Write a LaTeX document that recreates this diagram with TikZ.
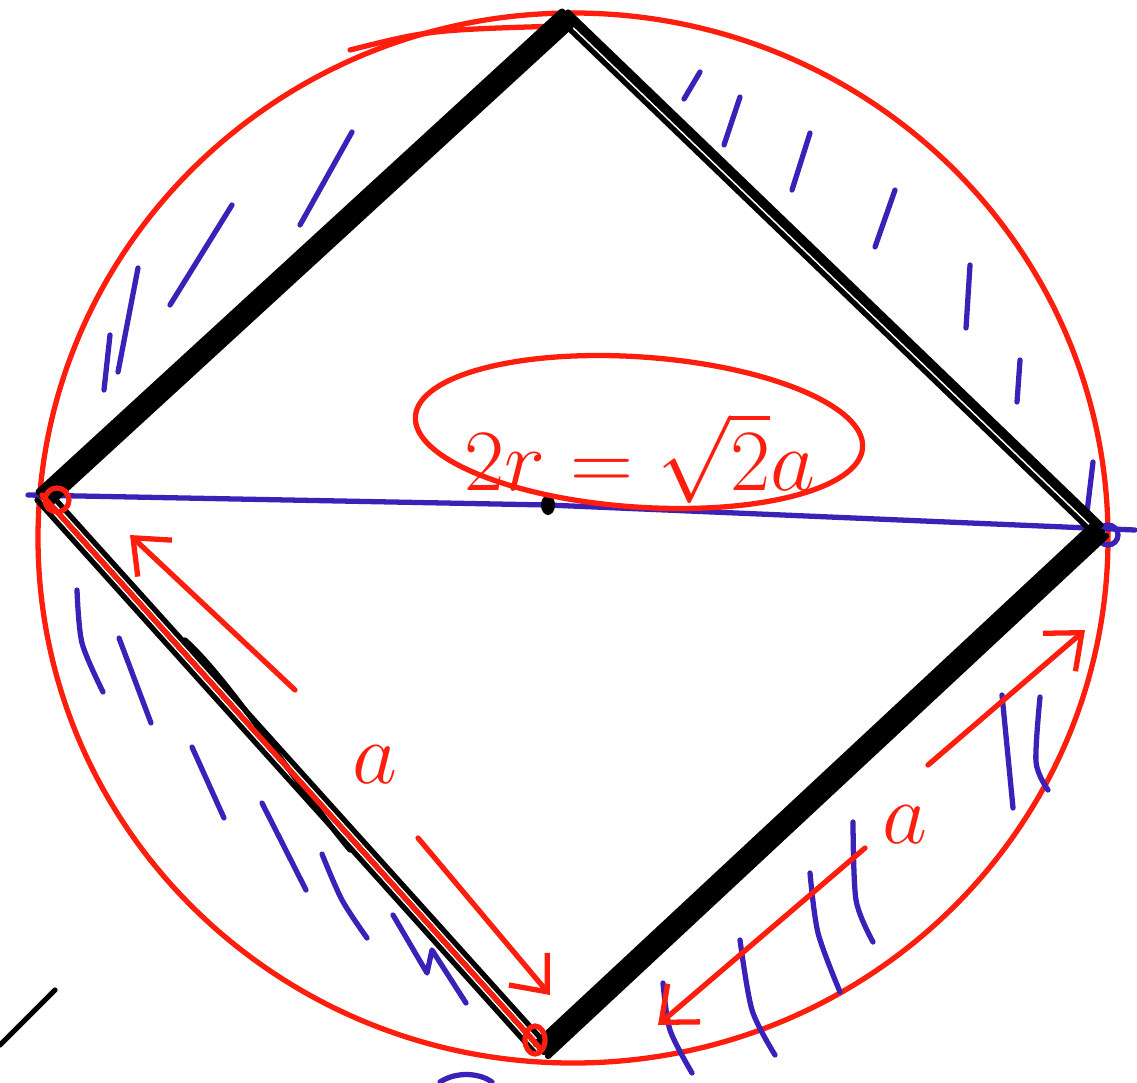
\documentclass[tikz,border=0pt]{standalone}
\usepackage{tikz}
\usetikzlibrary{arrows.meta,shapes.geometric,calc}
\definecolor{inkred}{HTML}{FF1E0E}
\definecolor{inkblue}{HTML}{3A22B8}
\begin{document}
\begin{tikzpicture}[
  x=0.01cm, y=-0.01cm,
  pen/.style={line width=1.5pt, line cap=round, line join=round},
  side/.style={pen, draw=black},
  rim/.style={pen, draw=inkred},
  hatch/.style={pen, draw=inkblue},
  measure/.style={pen, draw=inkred, -{Straight Barb[length=3mm,width=5mm]}},
  hand/.style={text=inkred, font=\fontsize{26}{30}\selectfont, inner sep=0pt}
]
\useasboundingbox (0,0) rectangle (1137,1082);

% corners of the square, centre of the circle
\coordinate (T) at (565,15);
\coordinate (L) at (42,495);
\coordinate (R) at (1098,528);
\coordinate (B) at (540,1048);
\coordinate (O) at (548,505);
\coordinate (dl) at (28,495);
\coordinate (dr) at (1135,530);

% circle
\draw[rim] (573,538) ellipse [x radius=535, y radius=525];
\draw[rim] (350,50) .. controls (430,30) .. (560,26);

% hatching of the four segments
\foreach \xa/\ya/\xb/\yb in {352/132/300/225, 232/205/170/305, 138/268/118/372, 110/335/104/390,
    700/72/684/99, 740/97/724/145, 810/133/792/190, 895/190/875/247,
    970/265/966/328, 1020/360/1017/402, 1093/462/1087/512,
    119/638/151/723, 192/747/224/818, 262/803/306/890, 1002/695/1013/808}
  \draw[hatch] (\xa,\ya) -- (\xb,\yb);
\draw[hatch] plot[smooth] coordinates {(77,590) (82,643) (103,692)};
\draw[hatch] plot[smooth] coordinates {(322,854) (342,900) (367,938)};
\draw[hatch] (393,915) -- (427,973) -- (432,950) -- (466,1003);
\draw[hatch] plot[smooth] coordinates {(1040,697) (1036,762) (1048,790)};
\draw[hatch] plot[smooth] coordinates {(853,822) (856,900) (873,942)};
\draw[hatch] plot[smooth] coordinates {(810,873) (818,933) (840,992)};
\draw[hatch] plot[smooth] coordinates {(740,940) (752,1010) (775,1055)};
\draw[hatch] plot[smooth] coordinates {(663,983) (670,1030) (692,1073)};
\draw[hatch] (440,1082) .. controls (455,1072) and (478,1072) .. (492,1082);

% diameter
\draw[hatch] (dl) -- (O) -- (dr);
\draw[hatch] (1108,535) circle [radius=10];

% square, drawn over several times
\foreach \dx/\dy in {0/0, 4/5, -3/-3, 7/9}
  \draw[side, line width=2pt] ($(T)+(\dx,\dy)$) -- ($(L)+(\dx,\dy)$);
\foreach \dx/\dy in {0/0, -5/5, 3/-3}
  \draw[side] ($(T)+(\dx,\dy)$) -- ($(R)+(\dx,\dy)$);
\foreach \dx/\dy in {0/0, -5/5, 5/-5}
  \draw[side] ($(L)+(\dx,\dy)$) -- ($(B)+(\dx,\dy)$);
\draw[side] (185,640) .. controls (230,680) and (300,790) .. (350,850);
\foreach \dx/\dy in {0/0, 4/4, -4/-4, 8/8}
  \draw[side, line width=1.8pt] ($(R)+(\dx,\dy)$) -- ($(B)+(\dx,\dy)$);
\draw[side] (0,1045) -- (55,990);
\fill[black] (O) ellipse [x radius=7, y radius=10];

% side a marked in red
\draw[rim] (L) -- (B);
\draw[rim] (57,500) circle [radius=12];
\draw[rim] (535,1040) ellipse [x radius=10, y radius=14];

% lengths
\draw[measure] (295,690) -- (130,535);
\draw[measure] (418,838) -- (550,995);
\draw[measure] (928,765) -- (1085,630);
\draw[measure] (865,848) -- (658,1025);
\node[hand] (aleft) at (375,765) {$a$};
\node[hand] (aright) at (905,825) {$a$};

% relation between diameter and side
\node[ellipse, draw=inkred, line width=1.5pt, minimum width=4.48cm, minimum height=1.5cm,
      rotate=-4] (ring) at (639,432) {};
\node[hand] (eq) at (640,458) {$2r = \sqrt{2}a$};
\end{tikzpicture}
\end{document}
